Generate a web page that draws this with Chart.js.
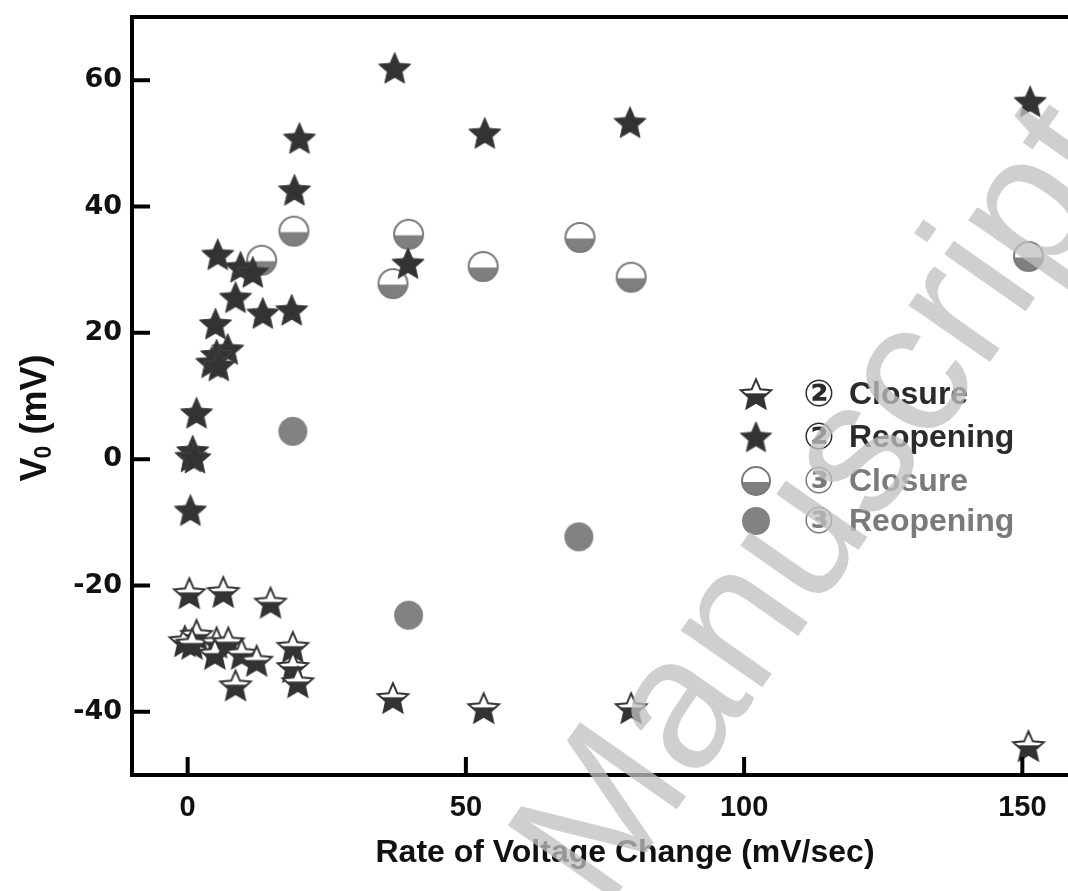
<!DOCTYPE html>
<html>
<head>
<meta charset="utf-8">
<script src="https://cdn.jsdelivr.net/npm/chart.js@4.4.1/dist/chart.umd.min.js"></script>
<style>
  html, body { margin: 0; padding: 0; background: #fff; overflow: hidden; width: 1068px; height: 891px; }
  #c { display: block; }
</style>
</head>
<body>
<canvas id="c" width="1090" height="891"></canvas>
<script>
// ---- data ----
const xTickValues = [0, 50, 100, 150];
const yTickValues = [-40, -20, 0, 20, 40, 60];

const seriesLabels = ['\u2461 Closure', '\u2461 Reopening', '\u2462 Closure', '\u2462 Reopening'];

const closure2X = [0.3, 6.4, 14.9, -0.5, 1.6, 0.8, 5.2, 4.9, 7.3, 9.7, 12.4, 8.6, 18.9, 18.9, 19.8, 36.9, 53.2, 79.7, 151.1];
const closure2Y = [-21.2, -21, -22.7, -28.8, -27.8, -29.2, -29, -30.8, -29, -30.8, -31.9, -35.8, -29.7, -32.9, -35.3, -37.8, -39.4, -39.4, -45.4];

const reopen2X = [37.2, 151.4, 79.5, 53.4, 20.1, 19.2, 5.4, 9.5, 11.7, 39.6, 8.6, 13.5, 18.7, 5.0, 7.2, 5.2, 4.3, 5.6, 1.6, 0.9, 0.6, 1.3, 0.5];
const reopen2Y = [61.9, 56.6, 53.3, 51.6, 50.8, 42.6, 32.4, 30.4, 29.6, 31.0, 25.6, 23.1, 23.6, 21.4, 17.4, 16.5, 15.3, 14.8, 7.3, 1.3, 0.4, 0.2, -8.1];

const closure3X = [13.3, 19.1, 36.9, 39.7, 53.1, 70.5, 79.7, 151.1];
const closure3Y = [31.5, 36.1, 27.8, 35.6, 30.5, 35.1, 28.8, 32.1];

const reopen3X = [18.9, 70.3, 39.7];
const reopen3Y = [4.4, -12.3, -24.7];

function pts(xs, ys) { return xs.map((x, i) => ({ x: x, y: ys[i] })); }

// ---- fonts ----
function hasFont(name) {
  const c = document.createElement('canvas').getContext('2d');
  const probe = 'abcdefghijklmWWW0123';
  c.font = '40px monospace'; const w1 = c.measureText(probe).width;
  c.font = '40px "' + name + '", monospace'; const w2 = c.measureText(probe).width;
  return Math.abs(w1 - w2) > 0.5;
}
const FONT = '"Liberation Sans", Arial, Helvetica, sans-serif';
const NARROW_OK = hasFont('Liberation Sans Narrow');
const NARROW = NARROW_OK ? '"Liberation Sans Narrow", "Arial Narrow", ' + FONT : FONT;
const xTickSize = NARROW_OK ? 34 : 29;
const xTitleSize = NARROW_OK ? 39 : 32;
const YFONT = '"DejaVu Sans", Verdana, ' + FONT;

// ---- marker images ----
function starPath(ctx, cx, cy, R, r) {
  ctx.beginPath();
  for (let i = 0; i < 10; i++) {
    const a = -Math.PI / 2 + i * Math.PI / 5;
    const rad = i % 2 === 0 ? R : r;
    const px = cx + rad * Math.cos(a), py = cy + rad * Math.sin(a);
    if (i === 0) ctx.moveTo(px, py); else ctx.lineTo(px, py);
  }
  ctx.closePath();
}
function makeCanvas(s) { const c = document.createElement('canvas'); c.width = s; c.height = s; return c; }

function fullStar(R) {
  const s = Math.ceil(R * 2 + 6), c = makeCanvas(s), ctx = c.getContext('2d'), m = s / 2;
  starPath(ctx, m, m + R * 0.08, R, R * 0.46);
  ctx.fillStyle = '#333333'; ctx.fill();
  ctx.lineWidth = 1; ctx.strokeStyle = '#444'; ctx.stroke();
  return c;
}
function halfStar(R) {
  const s = Math.ceil(R * 2 + 6), c = makeCanvas(s), ctx = c.getContext('2d'), m = s / 2;
  const cy = m + R * 0.08;
  starPath(ctx, m, cy, R, R * 0.46);
  ctx.fillStyle = '#ffffff'; ctx.fill();
  ctx.save();
  starPath(ctx, m, cy, R, R * 0.46); ctx.clip();
  ctx.fillStyle = '#333333';
  ctx.fillRect(0, cy - R * 0.12, s, s);
  ctx.restore();
  starPath(ctx, m, cy, R, R * 0.46);
  ctx.lineWidth = 2; ctx.strokeStyle = '#333333'; ctx.stroke();
  return c;
}
function halfCircle(r) {
  const s = Math.ceil(r * 2 + 6), c = makeCanvas(s), ctx = c.getContext('2d'), m = s / 2;
  ctx.beginPath(); ctx.arc(m, m, r, 0, Math.PI * 2); ctx.fillStyle = '#ffffff'; ctx.fill();
  ctx.save(); ctx.beginPath(); ctx.arc(m, m, r, 0, Math.PI * 2); ctx.clip();
  ctx.fillStyle = '#7f7f7f'; ctx.fillRect(0, m + 1, s, s);
  ctx.restore();
  ctx.beginPath(); ctx.arc(m, m, r, 0, Math.PI * 2);
  ctx.lineWidth = 2; ctx.strokeStyle = '#7a7a7a'; ctx.stroke();
  return c;
}
function fullCircle(r) {
  const s = Math.ceil(r * 2 + 6), c = makeCanvas(s), ctx = c.getContext('2d'), m = s / 2;
  ctx.beginPath(); ctx.arc(m, m, r, 0, Math.PI * 2); ctx.fillStyle = '#828282'; ctx.fill();
  return c;
}

const markerStyles = [halfStar(16), fullStar(17), halfCircle(14.5), fullCircle(14.5)];
const legendStyles = [halfStar(16), fullStar(16.5), halfCircle(14), fullCircle(14)];
const legendColors = ['#2b2b2b', '#2b2b2b', '#7a7a7a', '#7a7a7a'];

// ---- decoration plugin: frame, inward ticks, titles, legend, watermark ----
const deco = {
  id: 'deco',
  afterDatasetsDraw(chart) {
    const ctx = chart.ctx, a = chart.chartArea, xs = chart.scales.x, ys = chart.scales.y;
    ctx.save();
    // frame
    ctx.strokeStyle = '#000'; ctx.lineWidth = 4; ctx.lineCap = 'square';
    ctx.beginPath();
    ctx.moveTo(a.left, a.top); ctx.lineTo(a.right, a.top);
    ctx.moveTo(a.left, a.top); ctx.lineTo(a.left, a.bottom);
    ctx.moveTo(a.left, a.bottom); ctx.lineTo(a.right, a.bottom);
    ctx.moveTo(a.right, a.top); ctx.lineTo(a.right, a.bottom);
    ctx.stroke();
    // inward ticks
    ctx.lineWidth = 4; ctx.lineCap = 'butt';
    ctx.beginPath();
    xTickValues.forEach(v => { const p = xs.getPixelForValue(v); ctx.moveTo(p, a.bottom); ctx.lineTo(p, a.bottom - 18); });
    yTickValues.forEach(v => { const p = ys.getPixelForValue(v); ctx.moveTo(a.left, p); ctx.lineTo(a.left + 18, p); });
    ctx.stroke();

    // x title
    ctx.fillStyle = '#111';
    ctx.font = 'bold ' + xTitleSize + 'px ' + NARROW;
    ctx.textAlign = 'center'; ctx.textBaseline = 'middle';
    ctx.fillText('Rate of Voltage Change (mV/sec)', 625, 853);

    // y title  V0 (mV), rotated
    ctx.save();
    ctx.translate(46, 418);
    ctx.rotate(-Math.PI / 2);
    ctx.textBaseline = 'alphabetic'; ctx.textAlign = 'left';
    const fMain = 'bold 36px ' + FONT, fSub = 'bold 23px ' + FONT;
    ctx.font = fMain; const wV = ctx.measureText('V').width;
    ctx.font = fSub; const w0 = ctx.measureText('0').width;
    ctx.font = fMain; const wR = ctx.measureText(' (mV)').width;
    let x0 = -(wV + w0 + wR) / 2;
    ctx.font = fMain; ctx.fillText('V', x0, 0);
    ctx.font = fSub; ctx.fillText('0', x0 + wV - 1, 5);
    ctx.font = fMain; ctx.fillText(' (mV)', x0 + wV + w0, 0);
    ctx.restore();

    // legend
    const rowY = [394, 437, 481, 521];
    chart.data.datasets.forEach((ds, i) => {
      const img = legendStyles[i];
      ctx.drawImage(img, 756 - img.width / 2, rowY[i] - img.height / 2);
      const digit = ds.label.charAt(0), rest = ds.label.slice(2);
      ctx.fillStyle = legendColors[i];
      ctx.textBaseline = 'middle';
      ctx.textAlign = 'center';
      ctx.font = 'bold 37px "DejaVu Sans", "Noto Sans CJK SC", ' + FONT;
      ctx.fillText(digit, 819, rowY[i] + 2);
      ctx.textAlign = 'left';
      ctx.font = 'bold 32px ' + FONT;
      ctx.fillText(rest, 849, rowY[i] + 1);
    });

    // watermark
    ctx.save();
    ctx.translate(605, 912);
    ctx.rotate(-55 * Math.PI / 180);
    ctx.font = '188px ' + FONT;
    ctx.fillStyle = 'rgba(192,192,192,0.76)';
    ctx.textAlign = 'left'; ctx.textBaseline = 'alphabetic';
    ctx.fillText('Manuscript', 0, 0);
    ctx.restore();

    ctx.restore();
  }
};

const chart = new Chart(document.getElementById('c'), {
  type: 'scatter',
  data: {
    datasets: [
      { label: seriesLabels[0], data: pts(closure2X, closure2Y), pointStyle: markerStyles[0] },
      { label: seriesLabels[1], data: pts(reopen2X, reopen2Y), pointStyle: markerStyles[1] },
      { label: seriesLabels[2], data: pts(closure3X, closure3Y), pointStyle: markerStyles[2] },
      { label: seriesLabels[3], data: pts(reopen3X, reopen3Y), pointStyle: markerStyles[3] }
    ]
  },
  options: {
    responsive: false,
    animation: false,
    devicePixelRatio: 1,
    layout: { padding: { left: 0, right: 12, top: 17, bottom: 0 } },
    plugins: { legend: { display: false }, tooltip: { enabled: false } },
    scales: {
      x: {
        type: 'linear', min: -10, max: 160,
        afterBuildTicks: s => { s.ticks = xTickValues.map(v => ({ value: v })); },
        afterFit: s => { s.height = 116; s.paddingLeft = 0; s.paddingRight = 0; },
        grid: { display: false, drawTicks: false },
        border: { display: false },
        ticks: { padding: 16, color: '#111', font: { family: NARROW, size: xTickSize, weight: 'bold' } }
      },
      y: {
        type: 'linear', min: -50, max: 70,
        afterBuildTicks: s => { s.ticks = yTickValues.map(v => ({ value: v })); },
        afterFit: s => { s.width = 132; s.paddingTop = 0; s.paddingBottom = 0; },
        grid: { display: false, drawTicks: false },
        border: { display: false },
        ticks: { padding: 10, color: '#111', font: { family: YFONT, size: 27, weight: 'bold' } }
      }
    }
  },
  plugins: [deco]
});
</script>
</body>
</html>
